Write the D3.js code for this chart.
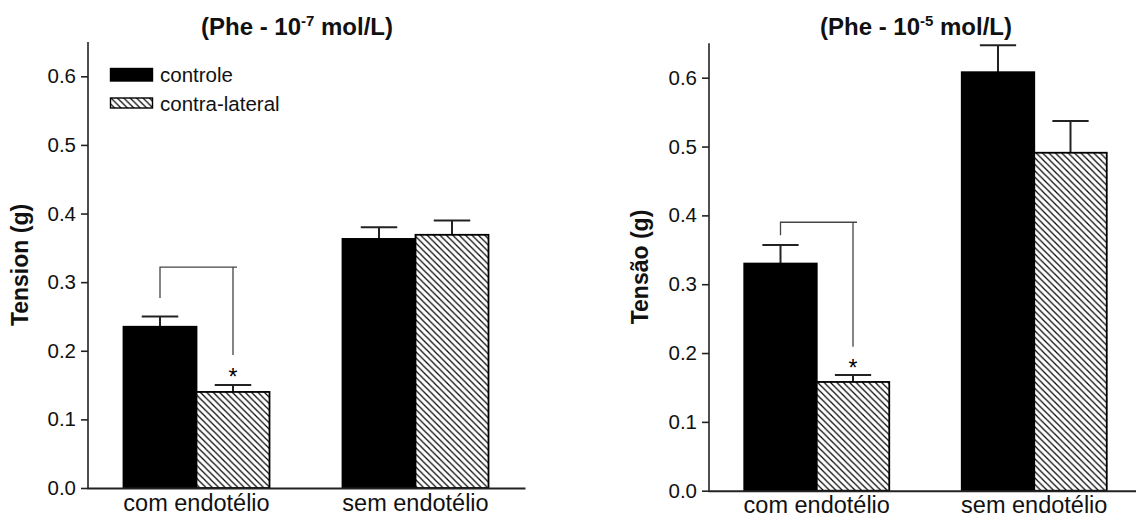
<!DOCTYPE html>
<html>
<head>
<meta charset="utf-8">
<script src="https://cdn.jsdelivr.net/npm/d3@7"></script>
<style>
  body { margin: 0; background: #fff; }
  svg { display: block; font-family: "Liberation Sans", Arial, sans-serif; }
</style>
</head>
<body>
<svg width="1136" height="517"></svg>
<script>
const categories = ['com endotélio', 'sem endotélio'];
const seriesNames = ['controle', 'contra-lateral'];
const yTicks = [0, 0.1, 0.2, 0.3, 0.4, 0.5, 0.6];

// Phe 10^-7 mol/L
const phe7Controle = [0.235, 0.363];
const phe7ControleErr = [0.015, 0.017];
const phe7Contra = [0.140, 0.369];
const phe7ContraErr = [0.010, 0.021];
// bracket: top, left leg end, right leg end, star
const phe7Bracket = [0.322, 0.277, 0.194, 0.169];

// Phe 10^-5 mol/L
const phe5Controle = [0.330, 0.608];
const phe5ControleErr = [0.027, 0.039];
const phe5Contra = [0.158, 0.491];
const phe5ContraErr = [0.010, 0.046];
const phe5Bracket = [0.390, 0.371, 0.209, 0.185];

const svg = d3.select('svg');

const defs = svg.append('defs');
const pat = defs.append('pattern')
    .attr('id', 'hatch')
    .attr('patternUnits', 'userSpaceOnUse')
    .attr('width', 6.4)
    .attr('height', 6.4);
pat.append('rect').attr('width', 6.4).attr('height', 6.4).attr('fill', '#fff');
pat.append('path')
    .attr('d', 'M0,0 L6.4,6.4 M-1,5.4 L1,7.4 M5.4,-1 L7.4,1')
    .attr('stroke', '#000')
    .attr('stroke-width', 1.2);

function panel(opts) {
    const g = svg.append('g');

    const x = d3.scaleBand()
        .domain(categories)
        .range(opts.xRange)
        .paddingInner(1 / 3)
        .paddingOuter(1 / 6);
    const xs = d3.scaleBand()
        .domain(seriesNames)
        .range([0, x.bandwidth()]);
    const y = d3.scaleLinear()
        .domain([0, 0.65])
        .range(opts.yRange);

    const rows = [];
    categories.forEach((c, i) => {
        rows.push({cat: c, s: seriesNames[0], v: opts.controle[i], e: opts.controleErr[i]});
        rows.push({cat: c, s: seriesNames[1], v: opts.contra[i], e: opts.contraErr[i]});
    });
    const bx = d => x(d.cat) + xs(d.s);
    const cx = d => bx(d) + xs.bandwidth() / 2;

    // error bars (upper only)
    const eb = g.append('g').attr('stroke', '#222').attr('stroke-width', 2);
    eb.selectAll('.stem').data(rows).join('line')
        .attr('x1', cx).attr('x2', cx)
        .attr('y1', d => y(d.v)).attr('y2', d => y(d.v + d.e));
    eb.selectAll('.cap').data(rows).join('line')
        .attr('x1', d => cx(d) - xs.bandwidth() / 4)
        .attr('x2', d => cx(d) + xs.bandwidth() / 4)
        .attr('y1', d => y(d.v + d.e)).attr('y2', d => y(d.v + d.e));

    // bars
    g.append('g').selectAll('rect').data(rows).join('rect')
        .attr('x', bx)
        .attr('y', d => y(d.v))
        .attr('width', xs.bandwidth())
        .attr('height', d => y(0) - y(d.v))
        .attr('fill', d => d.s === seriesNames[0] ? '#000' : 'url(#hatch)')
        .attr('stroke', '#000')
        .attr('stroke-width', 1.8);

    // significance bracket
    const b = opts.bracket;
    const lx = cx(rows[0]), rx = cx(rows[1]);
    g.append('path')
        .attr('d', `M${lx},${y(b[1])} V${y(b[0])} H${rx + 4} M${rx},${y(b[0])} V${y(b[2])}`)
        .attr('fill', 'none')
        .attr('stroke', '#444')
        .attr('stroke-width', 1.3);
    g.append('text')
        .attr('x', rx)
        .attr('y', y(b[3]) + 13)
        .attr('text-anchor', 'middle')
        .attr('font-size', 23)
        .text('*');

    // axes
    const yAxis = g.append('g')
        .attr('transform', `translate(${opts.xRange[0] + 1},0)`)
        .call(d3.axisLeft(y).tickValues(yTicks).tickFormat(d3.format('.1f')).tickSize(7).tickSizeOuter(0).tickPadding(5));
    yAxis.select('.domain').attr('d', `M0,${y(0)}V${y(0.65)}`).attr('stroke', '#222').attr('stroke-width', 1.6);
    yAxis.selectAll('.tick line').attr('stroke', '#222').attr('stroke-width', 1.6);
    yAxis.selectAll('.tick text').attr('font-size', 20.5).attr('fill', '#111').attr('font-family', null);

    const xAxis = g.append('g')
        .attr('transform', `translate(0,${y(0)})`)
        .call(d3.axisBottom(x).tickSize(0).tickSizeOuter(0).tickPadding(6));
    xAxis.select('.domain').attr('stroke', '#222').attr('stroke-width', 2);
    xAxis.selectAll('.tick text').attr('font-size', 23.5).attr('fill', '#111').attr('font-family', null);

    // y title
    g.append('text')
        .attr('transform', `translate(${opts.yTitleX},${(y(0) + y(0.65)) / 2}) rotate(-90)`)
        .attr('text-anchor', 'middle')
        .attr('font-size', 23)
        .attr('font-weight', 'bold')
        .attr('fill', '#111')
        .text(opts.yTitle);

    // title with superscript
    const t = g.append('text')
        .attr('x', opts.titleX)
        .attr('y', 35)
        .attr('text-anchor', 'middle')
        .attr('font-size', 24)
        .attr('font-weight', 'bold')
        .attr('fill', '#111');
    t.append('tspan').text('(Phe - 10');
    t.append('tspan').attr('dy', -9).attr('font-size', 15).text(opts.exp);
    t.append('tspan').attr('dy', 9).text(' mol/L)');

    return {g, x, y};
}

const left = panel({
    xRange: [87, 525], yRange: [488, 42],
    controle: phe7Controle, controleErr: phe7ControleErr,
    contra: phe7Contra, contraErr: phe7ContraErr,
    bracket: phe7Bracket,
    yTitle: 'Tension (g)', yTitleX: 28, titleX: 297, exp: '-7'
});

panel({
    xRange: [708, 1143], yRange: [490.7, 43.3],
    controle: phe5Controle, controleErr: phe5ControleErr,
    contra: phe5Contra, contraErr: phe5ContraErr,
    bracket: phe5Bracket,
    yTitle: 'Tensão (g)', yTitleX: 648, titleX: 916, exp: '-5'
});

// legend
const legend = left.g.append('g').attr('transform', 'translate(110,68)');
const li = legend.selectAll('g').data(seriesNames).join('g')
    .attr('transform', (d, i) => `translate(0,${i * 29})`);
li.append('rect')
    .attr('x', 0.5).attr('y', (d, i) => i ? 1 : 0.5)
    .attr('width', 42).attr('height', (d, i) => i ? 10 : 12.5)
    .attr('fill', (d, i) => i ? 'url(#hatch)' : '#000')
    .attr('stroke', '#000').attr('stroke-width', 1.4);
li.append('text')
    .attr('x', 50).attr('y', 14)
    .attr('font-size', 20.5)
    .attr('fill', '#111')
    .text(d => d);
</script>
</body>
</html>
